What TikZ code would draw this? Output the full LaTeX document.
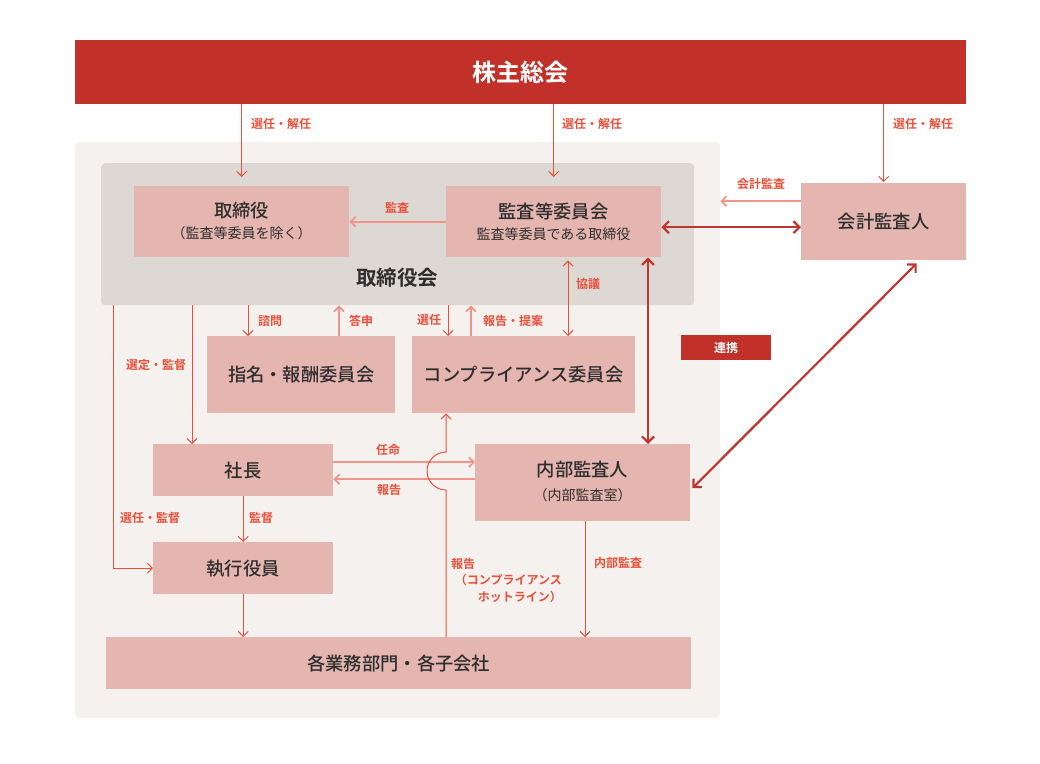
\documentclass[tikz,border=0pt]{standalone}
\usepackage{fontspec}
\setmainfont{Noto Sans CJK JP}[BoldFont=* Bold]
\newfontfamily\medfont{Noto Sans CJK JP Medium}
\usetikzlibrary{arrows.meta,calc}
\definecolor{bannerred}{HTML}{C1312A}
\definecolor{outerbg}{HTML}{F5F1EE}
\definecolor{boardbg}{HTML}{DDD8D4}
\definecolor{boxpink}{HTML}{E5B6B0}
\definecolor{fwdcol}{HTML}{E8503A}
\definecolor{retcol}{HTML}{F0958A}
\definecolor{thickcol}{HTML}{C0352D}
\definecolor{txt}{HTML}{2E2E2E}
\begin{document}
\begin{tikzpicture}[x=1pt,y=-1pt,
  area/.style={draw=none,inner sep=0pt,anchor=north west,rounded corners=4pt},
  pbox/.style={fill=boxpink,draw=none,inner sep=0pt,anchor=north west,text=txt,align=center,
     font=\fontsize{18.3}{22}\medfont},
  ttl/.style={text=txt,font=\fontsize{18.3}{22}\medfont},
  sub/.style={font=\fontsize{14}{17}\selectfont},
  lbl/.style={text=fwdcol,inner sep=0pt,font=\fontsize{12}{15}\selectfont\bfseries},
  fwd/.style={draw=fwdcol,line width=1pt,-{Straight Barb[length=5pt,width=10pt]}},
  ret/.style={draw=retcol,line width=1.7pt,-{Straight Barb[length=5pt,width=10pt]}},
  thk/.style={draw=thickcol,line width=2.2pt,{Straight Barb[length=6pt,width=12pt]}-{Straight Barb[length=6pt,width=12pt]}}
]
\useasboundingbox (0,0) rectangle (1040,763);
% backgrounds
\node[area,fill=outerbg,minimum width=645pt,minimum height=576pt] (outer) at (75,142) {};
\node[area,fill=boardbg,minimum width=593pt,minimum height=142pt] (board) at (101,163) {};
\node[text=txt,font=\fontsize{20.5}{24}\selectfont\bfseries] (boardlbl) at (397,278) {取締役会};
% banner
\node[fill=bannerred,draw=none,inner sep=0pt,anchor=north west,minimum width=891pt,minimum height=64pt,
  text=white,font=\fontsize{24}{28}\selectfont\bfseries] (banner) at (75,40) {株主総会};
% boxes
\node[pbox,minimum width=215pt,minimum height=71pt] (tori) at (134,186) {};
\node[ttl] (toriA) at (241.5,211) {取締役};
\node[text=txt,sub] (toriB) at (241.5,233) {（監査等委員を除く）};
\node[pbox,minimum width=215pt,minimum height=71pt] (kansa) at (446,186) {};
\node[ttl] (kansaA) at (553.5,212) {監査等委員会};
\node[text=txt,sub] (kansaB) at (553.5,234) {監査等委員である取締役};
\node[pbox,minimum width=165pt,minimum height=77pt] (kaikei) at (801,183) {会計監査人};
\node[pbox,minimum width=188pt,minimum height=77pt] (shimei) at (207,336) {指名・報酬委員会};
\node[pbox,minimum width=223pt,minimum height=77pt] (comp) at (412,336) {コンプライアンス委員会};
\node[fill=bannerred,draw=none,inner sep=0pt,anchor=north west,minimum width=90pt,minimum height=25pt,
  text=white,font=\fontsize{12}{14}\selectfont\bfseries] (renkei) at (681,335) {連携};
\node[pbox,minimum width=180pt,minimum height=52pt] (shacho) at (153,444) {社長};
\node[pbox,minimum width=215pt,minimum height=77pt] (naibu) at (475,444) {};
\node[ttl] (naibuA) at (582.5,470) {内部監査人};
\node[text=txt,sub] (naibuB) at (582.5,495) {（内部監査室）};
\node[pbox,minimum width=180pt,minimum height=52pt] (shikko) at (153,542) {執行役員};
\node[pbox,minimum width=585pt,minimum height=52pt] (gyomu) at (106,637) {各業務部門・各子会社};
% connectors from banner
\draw[fwd,shorten >=9pt] (tori.north |- banner.south) -- (tori.north);
\draw[fwd,shorten >=9pt] (kansa.north |- banner.south) -- (kansa.north);
\draw[fwd,shorten >=1pt] (kaikei.north |- banner.south) -- (kaikei.north);
\node[lbl] (l1) at (281,124) {選任・解任};
\node[lbl] (l2) at (592,124) {選任・解任};
\node[lbl] (l3) at (923,124) {選任・解任};
% audit
\draw[ret] (kansa.west) -- (tori.east);
\node[lbl] (l4) at (397,208) {監査};
\draw[thk] ([yshift=-5.5pt]kansa.east) -- ([yshift=-5.5pt]kaikei.west);
\coordinate (k1) at ([yshift=20.5pt]kaikei.west);
\draw[ret] (k1) -- (k1 -| outer.east);
\node[lbl] (l5) at (761,184) {会計監査};
\draw[thk] (kansa.south -| 648,0) -- (naibu.north -| 648,0);
\draw[thk] ([xshift=33pt,yshift=-3pt]kaikei.south) -- ([xshift=2pt,yshift=-5.5pt]naibu.east);
% kyogi
\draw[fwd,{Straight Barb[length=5pt,width=10pt]}-{Straight Barb[length=5pt,width=10pt]},shorten <=3pt] (kansa.south -| 568,0) -- (comp.north -| 568,0);
\node[lbl] (l6) at (588,284) {協議};
% from board
\draw[fwd] (board.south -| 113,0) |- (shikko.west);
\node[lbl] (l7) at (150,518) {選任・監督};
\draw[fwd] (board.south -| 192,0) -- (shacho.north -| 192,0);
\node[lbl] (l8) at (156,365) {選定・監督};
\draw[fwd] (board.south -| 248,0) -- (shimei.north -| 248,0);
\node[lbl] (l9) at (270,321) {諮問};
\draw[ret] (shimei.north -| 339,0) -- (board.south -| 339,0);
\node[lbl] (l10) at (361,321) {答申};
\draw[fwd] (board.south -| 448,0) -- (comp.north -| 448,0);
\node[lbl] (l11) at (429,320) {選任};
\draw[ret] (comp.north -| 471,0) -- (board.south -| 471,0);
\node[lbl] (l12) at (513,321) {報告・提案};
% shacho - naibu
\coordinate (a1) at ([yshift=8pt]shacho.east);
\draw[ret] (a1) -- (a1 -| naibu.west);
\node[lbl] (l13) at (388,450) {任命};
\coordinate (a2) at ([yshift=-9pt]shacho.east);
\draw[ret] (a2 -| naibu.west) -- (a2);
\node[lbl] (l14) at (389,490) {報告};
% hotline
\draw[fwd] (gyomu.north -| 446,0) -- (446,490) arc[start angle=270,end angle=90,radius=19pt] -- (comp.south -| 446,0);
\node[lbl,anchor=west] (l15) at (451,564) {報告};
\node[lbl,anchor=east] (l16) at (562,580) {（コンプライアンス};
\node[lbl,anchor=east] (l17) at (562,597) {ホットライン）};
% lower
\draw[fwd] (shacho) -- (shikko);
\node[lbl] (l18) at (261,518) {監督};
\draw[fwd] (shikko.south) -- (shikko.south |- gyomu.north);
\draw[fwd] (naibu.south -| 585,0) -- (gyomu.north -| 585,0);
\node[lbl] (l19) at (618,563) {内部監査};
\end{tikzpicture}
\end{document}
